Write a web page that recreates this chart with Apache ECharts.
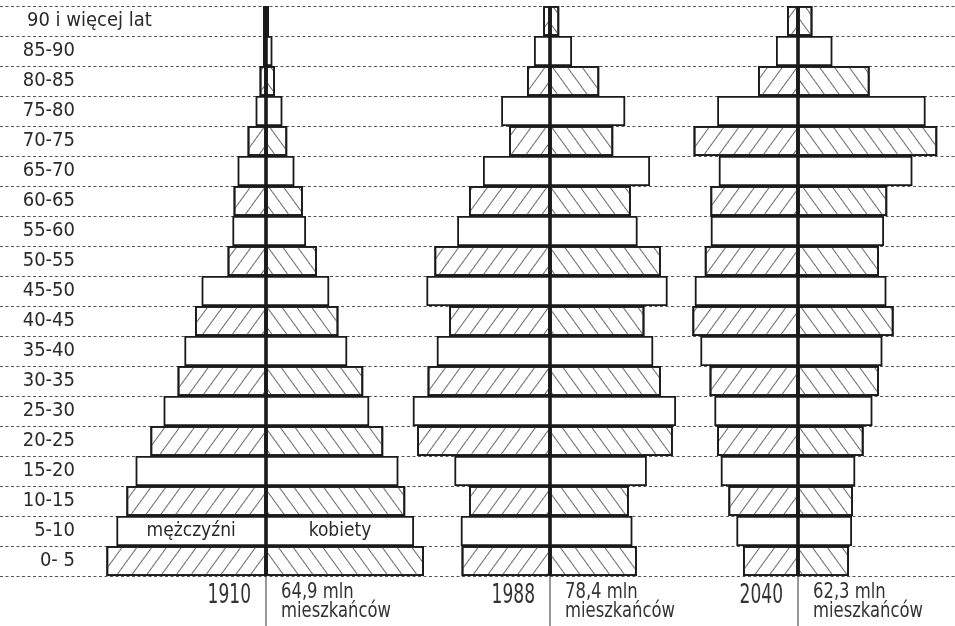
<!DOCTYPE html>
<html>
<head>
<meta charset="utf-8">
<script src="https://cdn.jsdelivr.net/npm/echarts@6/dist/echarts.min.js"></script>
<style>
html,body{margin:0;padding:0;background:#fff;}
#c{width:955px;height:626px;}
</style>
</head>
<body>
<div id="c"></div>
<script>
// ---- data (thousands of people) ----
const ageGroups = ['0- 5','5-10','10-15','15-20','20-25','25-30','30-35','35-40','40-45','45-50',
  '50-55','55-60','60-65','65-70','70-75','75-80','80-85','85-90','90 i więcej lat'];
const years = ['1910', '1988', '2040'];
const totals = ['64,9 mln', '78,4 mln', '62,3 mln'];
const totalsUnit = 'mieszkańców';
const sexLabels = ['mężczyźni', 'kobiety'];

const men1910   = [3990,3740,3490,3260,2890,2560,2210,2040,1775,1610,960,840,810,710,460,260,160,75,75];
const women1910 = [3950,3700,3480,3310,2930,2580,2430,2030,1810,1580,1270,1000,920,710,530,410,225,160,75];
const men1988   = [2210,2230,2025,2390,3320,3430,3060,2830,2520,3090,2890,2320,2025,1675,1020,1220,575,400,170];
const women1988 = [2170,2060,1970,2420,3070,3150,2770,2580,2360,2940,2770,2190,2020,2500,1580,1880,1230,550,230];
const men2040   = [1375,1540,1740,1930,2020,2090,2210,2440,2640,2580,2330,2180,2190,1980,2610,2020,1000,550,275];
const women2040 = [1275,1350,1375,1430,1640,1860,2025,2110,2390,2210,2025,2150,2230,2860,3480,3190,1790,860,360];

// ---- layout ----
const W = 955, H = 626;
const centers = [266, 550, 798];      // pixel position of each pyramid's axis
const unitsPerPx = 25;                 // common scale for all three pyramids
const FONT = '"Liberation Sans Narrow", "Arial Narrow", "DejaVu Sans Condensed", "Roboto Condensed", "Liberation Sans", sans-serif';
const INK = '#2a2a2a';

const pyramids = [[men1910, women1910], [men1988, women1988], [men2040, women2040]];

function hatch(rot) {
  return {
    symbol: 'rect',
    symbolSize: 1,
    dashArrayX: [1, 0],
    dashArrayY: [1, 10.5],
    rotation: rot,
    color: '#6a6a6a',
    backgroundColor: null
  };
}

const grids = [], xAxes = [], yAxes = [], series = [];
pyramids.forEach((p, gi) => {
  grids.push({left: 0, right: 0, top: 6, height: 570, containLabel: false, outerBoundsMode: 'none'});
  xAxes.push({
    gridIndex: gi, type: 'value', show: false,
    min: -centers[gi] * unitsPerPx, max: (W - centers[gi]) * unitsPerPx
  });
  yAxes.push({
    gridIndex: gi, type: 'category', data: ageGroups,
    axisLine: {show: false}, axisTick: {show: false},
    axisLabel: gi === 0 ? {
      show: true, inside: true, margin: 27, align: 'left',
      color: INK, fontFamily: FONT, fontSize: 20,
      formatter: v => v.length > 6 ? '{t|' + v + '}' : '{r|' + v + '}',
      rich: {
        t: {fontFamily: FONT, fontSize: 20, color: INK},
        r: {fontFamily: FONT, fontSize: 20, color: INK, width: 48, align: 'right'}
      }
    } : {show: false},
    splitLine: gi === 0 ? {show: true, lineStyle: {color: '#555', width: 1.1, type: [3, 2.5]}} : {show: false}
  });
  p.forEach((vals, side) => {
    const sign = side === 0 ? -1 : 1;
    const rot = side === 0 ? -Math.PI * 0.3 : Math.PI * 0.3;
    series.push({
      type: 'bar', xAxisIndex: gi, yAxisIndex: gi, stack: 'p' + gi,
      barCategoryGap: '0%', barWidth: '100%',
      silent: true, animation: false,
      itemStyle: {color: '#fff', borderColor: '#1a1a1a', borderWidth: 1.8},
      data: vals.map((v, i) => {
        const d = {value: sign * v};
        if (i % 2 === 0) d.itemStyle = {decal: hatch(rot)};
        if (gi === 0 && i === 1) {
          d.label = {show: true, position: 'inside', formatter: sexLabels[side],
            fontFamily: FONT, fontSize: 19, color: INK};
        }
        return d;
      })
    });
  });
});

const chart = echarts.init(document.getElementById('c'), null, {renderer: 'canvas'});
chart.setOption({
  backgroundColor: '#fff',
  animation: false,
  grid: grids, xAxis: xAxes, yAxis: yAxes, series: series
});

// bottom annotations, placed through the axes' own scales
const y0 = chart.convertToPixel({yAxisIndex: 0}, ageGroups[0]);
const y1 = chart.convertToPixel({yAxisIndex: 0}, ageGroups[1]);
const bottomY = y0 + (y0 - y1) / 2;
const graphics = [];
years.forEach((yr, gi) => {
  const cx = chart.convertToPixel({xAxisIndex: gi}, 0);
  graphics.push({type: 'line', silent: true, z: 10,
    shape: {x1: cx, y1: bottomY, x2: cx, y2: H}, style: {stroke: '#444', lineWidth: 1.1}});
  graphics.push({type: 'text', silent: true, x: cx - 15, y: bottomY + 7, scaleX: 0.73,
    style: {text: yr, fill: '#333', fontFamily: FONT, fontSize: 26, align: 'right', verticalAlign: 'top'}});
  graphics.push({type: 'text', silent: true, x: cx + 15, y: bottomY + 7, scaleX: 0.83,
    style: {text: totals[gi] + '\n' + totalsUnit, fill: '#333', fontFamily: FONT, fontSize: 22,
      lineHeight: 19, align: 'left', verticalAlign: 'top'}});
});
chart.setOption({graphic: graphics});
</script>
</body>
</html>
